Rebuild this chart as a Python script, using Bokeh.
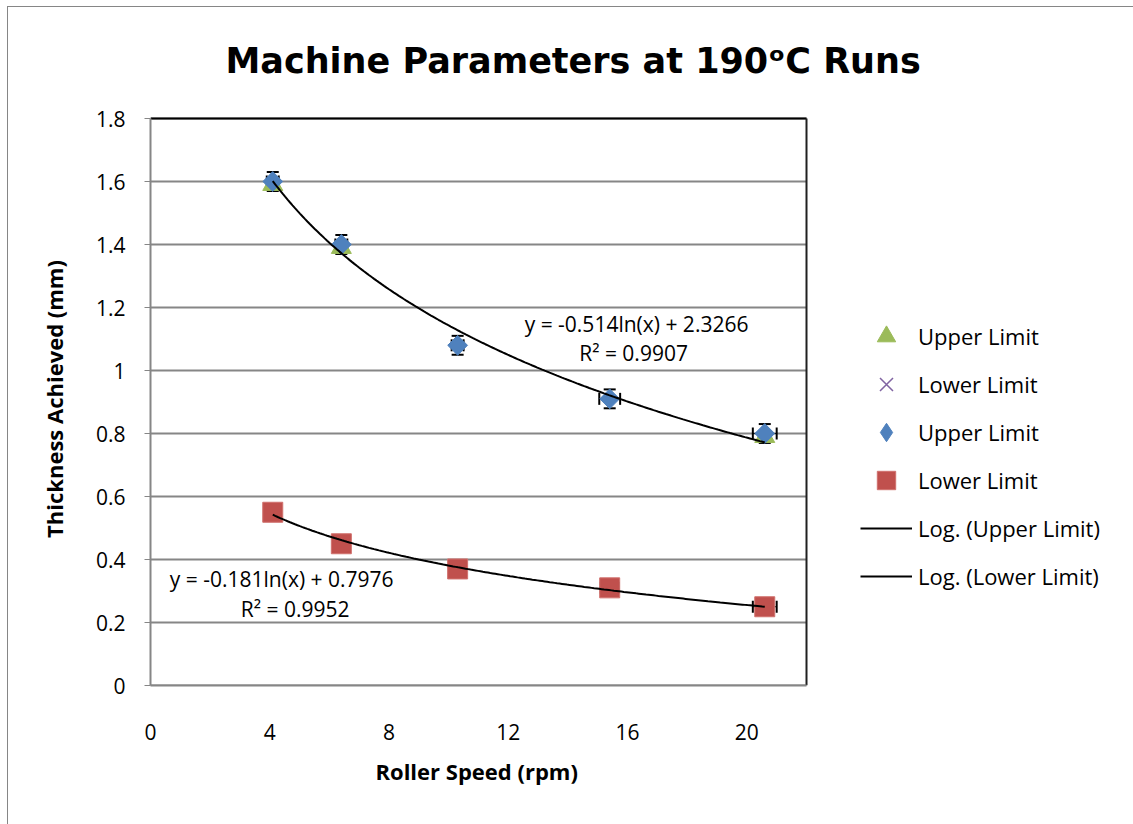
import numpy as np
from bokeh.plotting import figure
from bokeh.models import (Range1d, FixedTicker, Legend, LegendItem, Label, Title,
                          ColumnDataSource, Whisker, TeeHead, InlineStyleSheet)
from bokeh.embed import file_html
from bokeh.resources import INLINE

# Roller speed (rpm) and achieved thickness (mm)
speed_upper = [4.1, 6.4, 10.3, 15.4, 20.6]
thick_upper = [1.60, 1.40, 1.08, 0.91, 0.80]
speed_upper_tri = [4.1, 6.4, 20.6]
thick_upper_tri = [1.59, 1.39, 0.79]
speed_lower = [4.1, 6.4, 10.3, 15.4, 20.6]
thick_lower = [0.55, 0.45, 0.37, 0.31, 0.25]

# Error bar half-widths
yerr_upper = [0.03, 0.03, 0.03, 0.03, 0.03]
xerr_upper = [0.2, 0.2, 0.2, 0.35, 0.4]
yerr_lower = [0.02, 0.02, 0.02, 0.02, 0.02]
xerr_lower = [0.2, 0.2, 0.2, 0.3, 0.4]

# Logarithmic trendlines y = a*ln(x) + b, with R²
fit_upper = (-0.514, 2.3266, 0.9907)
fit_lower = (-0.181, 0.7976, 0.9952)

x_ticks = [0, 4, 8, 12, 16, 20]
y_ticks = [0, 0.2, 0.4, 0.6, 0.8, 1.0, 1.2, 1.4, 1.6, 1.8]
x_lim = (0, 22)
y_lim = (0, 1.8)

FONT = "Open Sans"
TITLE_FONT = "DejaVu Sans"
GRAY = "#868686"

# Pixel layout: plot area 150..806 x 118..685 inside a 1133x824 canvas.
# The frame is stretched to the right edge so the legend can sit beside the
# plot area; the visible plot area is bounded by the axis bounds.
W, H = 1133, 824
LEFT, BOTTOM, TOP = 150, 139, 112
px_per_x = (806 - LEFT) / (x_lim[1] - x_lim[0])
px_per_y = (H - BOTTOM - 118) / (y_lim[1] - y_lim[0])
x_end = x_lim[0] + (W - LEFT) / px_per_x
y_end = y_lim[0] + (H - BOTTOM - TOP) / px_per_y

# Thin gray frame around the whole chart
frame_css = InlineStyleSheet(css="""
:host { position: relative; }
:host::after {
  content: ""; position: absolute; left: 7px; top: 6px;
  width: 1140px; height: 830px;
  border: 1.5px solid #868686; pointer-events: none; z-index: 10;
}
""")

p = figure(width=W, height=H, output_backend="svg", toolbar_location=None,
           x_range=Range1d(x_lim[0], x_end), y_range=Range1d(y_lim[0], y_end),
           min_border_left=LEFT, min_border_right=0,
           min_border_top=TOP, min_border_bottom=BOTTOM,
           stylesheets=[frame_css])
p.border_fill_color = "white"
p.background_fill_color = "white"
p.outline_line_color = None

# Title
p.title.text = "Machine Parameters at 190ᵒC Runs"
p.title.text_font = TITLE_FONT
p.title.text_font_style = "bold"
p.title.text_font_size = "35px"
p.title.text_color = "black"
p.title.align = "left"
p.title.offset = 75
p.title.standoff = 63

# Axes
p.xaxis.ticker = FixedTicker(ticks=x_ticks)
p.yaxis.ticker = FixedTicker(ticks=y_ticks)
p.xaxis.bounds = x_lim
p.yaxis.bounds = y_lim
p.yaxis.major_label_overrides = {0: "0", 1.0: "1"}
for ax in (p.xaxis[0], p.yaxis[0]):
    ax.axis_line_color = GRAY
    ax.axis_line_width = 2
    ax.minor_tick_line_color = None
    ax.major_label_text_font = FONT
    ax.major_label_text_font_size = "21px"
    ax.major_label_text_color = "black"
    ax.axis_label_text_font = FONT
    ax.axis_label_text_font_style = "bold"
    ax.axis_label_text_font_size = "22px"
    ax.axis_label_text_color = "black"
p.xaxis.major_tick_line_color = None
p.xaxis.major_label_standoff = 32
p.yaxis.major_tick_line_color = GRAY
p.yaxis.major_tick_line_width = 1
p.yaxis.major_tick_in = 0
p.yaxis.major_tick_out = 6
p.yaxis.major_label_standoff = 19
p.yaxis.axis_label = "Thickness Achieved (mm)"
p.yaxis.axis_label_standoff = 24

# x-axis title placed under the plot area
p.add_layout(Title(text="Roller Speed (rpm)", align="left", offset=225,
                   text_font=FONT, text_font_style="bold", text_font_size="22px",
                   text_color="black", standoff=22), "below")

# Horizontal gridlines across the plot area only
p.xgrid.grid_line_color = None
p.ygrid.grid_line_color = None
p.segment(x0=[x_lim[0]] * len(y_ticks), x1=[x_lim[1]] * len(y_ticks),
          y0=y_ticks, y1=y_ticks, line_color=GRAY, line_width=2, level="underlay")

# Plot area edges (top and right)
p.line([x_lim[0], x_lim[1]], [y_lim[1], y_lim[1]], line_color="black", line_width=2)
p.line([x_lim[1], x_lim[1]], [y_lim[0], y_lim[1]], line_color="#202020", line_width=2)

# Markers
r_tri = p.scatter(speed_upper_tri, thick_upper_tri, marker="triangle", size=20,
                  fill_color="#9BBB59", line_color="#9BBB59")
r_x = p.scatter(speed_lower, thick_lower, marker="x", size=12,
                line_color="#8064A2", line_width=1.5)
r_dia = p.scatter(speed_upper, thick_upper, marker="square", angle=np.pi / 4,
                  size=14, fill_color="#4F81BD", line_color="#4F81BD")
r_sq = p.scatter(speed_lower, thick_lower, marker="square", size=20,
                 fill_color="#C0504D", line_color="#D0706D")
# legend swatch for the diamond series
r_dia_key = p.scatter([np.nan], [np.nan], marker="diamond", size=20,
                      fill_color="#4F81BD", line_color="#4F81BD")

# Error bars
def add_errors(xs, ys, xe, ye):
    src = ColumnDataSource(dict(
        x=xs, y=ys,
        ylo=[y - e for y, e in zip(ys, ye)], yhi=[y + e for y, e in zip(ys, ye)],
        xlo=[x - e for x, e in zip(xs, xe)], xhi=[x + e for x, e in zip(xs, xe)]))
    for dim, base, lo, hi in (("height", "x", "ylo", "yhi"), ("width", "y", "xlo", "xhi")):
        w = Whisker(source=src, base=base, lower=lo, upper=hi, dimension=dim,
                    line_color="black", line_width=1,
                    upper_head=TeeHead(size=12, line_color="black", line_width=2),
                    lower_head=TeeHead(size=12, line_color="black", line_width=2))
        p.add_layout(w)

add_errors(speed_upper, thick_upper, xerr_upper, yerr_upper)
add_errors(speed_lower, thick_lower, xerr_lower, yerr_lower)

# Trendlines from the stated equations
xs_fit = np.linspace(min(speed_upper), max(speed_upper), 200)
r_fu = p.line(xs_fit, fit_upper[0] * np.log(xs_fit) + fit_upper[1],
              line_color="black", line_width=2)
r_fl = p.line(xs_fit, fit_lower[0] * np.log(xs_fit) + fit_lower[1],
              line_color="black", line_width=2)

# Trendline equations
def eq_text(a, b):
    return f"y = {a:g}ln(x) + {b:g}"

for txt, x, y in ((eq_text(fit_upper[0], fit_upper[1]), 16.3, 1.149),
                  (f"R² = {fit_upper[2]}", 16.2, 1.054),
                  (eq_text(fit_lower[0], fit_lower[1]), 4.4, 0.337),
                  (f"R² = {fit_lower[2]}", 4.85, 0.242)):
    p.add_layout(Label(x=x, y=y, text=txt, text_font=FONT, text_font_size="21px",
                       text_align="center", text_baseline="middle", text_color="black"))

legend = Legend(items=[
    LegendItem(label="Upper Limit", renderers=[r_tri]),
    LegendItem(label="Lower Limit", renderers=[r_x]),
    LegendItem(label="Upper Limit", renderers=[r_dia_key]),
    LegendItem(label="Lower Limit", renderers=[r_sq]),
    LegendItem(label="Log. (Upper Limit)", renderers=[r_fu]),
    LegendItem(label="Log. (Lower Limit)", renderers=[r_fl]),
], location=(860 - LEFT, 86), padding=0, margin=0, spacing=2,
    glyph_width=52, glyph_height=46, label_standoff=6,
    label_text_font=FONT, label_text_font_size="22px", label_text_color="black",
    border_line_color=None, background_fill_alpha=0)
p.add_layout(legend, "center")

open("out.html", "w").write(file_html(p, INLINE))
